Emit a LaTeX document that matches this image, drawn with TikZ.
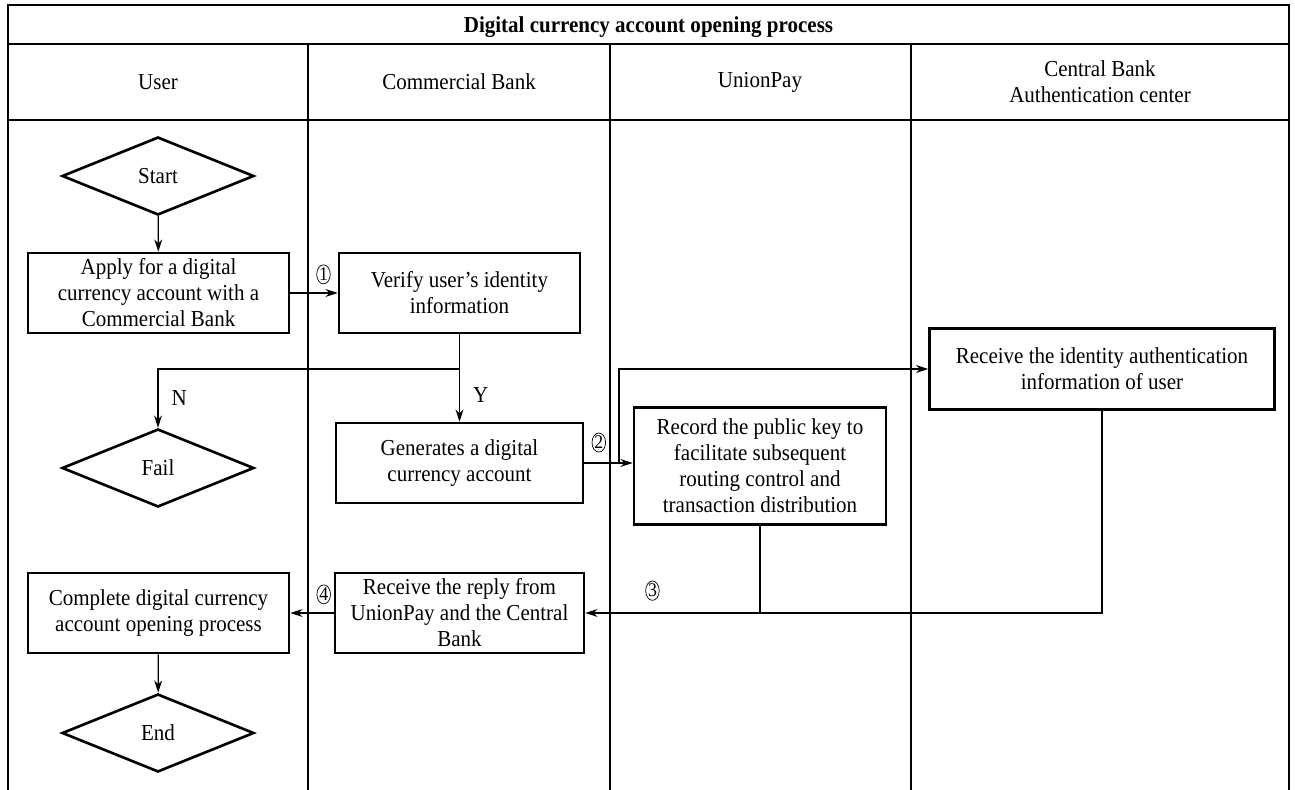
\documentclass[tikz,border=0pt]{standalone}
\usepackage{fontspec}
\setmainfont[FakeStretch=0.92]{Liberation Serif}
\usetikzlibrary{shapes.geometric, arrows.meta}

\begin{document}
\begin{tikzpicture}[x=0.02cm, y=-0.02cm,
    font=\fontsize{13}{14.8}\selectfont,
    >={Stealth[length=7pt, width=4.5pt]},
    lane/.style={line width=0.8pt},
    proc/.style={draw, line width=1.5pt, align=center, inner sep=2pt, minimum height=1.6cm},
    term/.style={draw, diamond, line width=1.5pt, minimum width=3.84cm, minimum height=1.56cm, inner sep=0pt},
    flow/.style={line width=0.7pt},
    num/.style={draw, ellipse, line width=0.4pt, inner sep=0.2pt, minimum width=0.26cm, minimum height=0.32cm, font=\fontsize{11}{11}\selectfont}]
  \useasboundingbox (0,0) rectangle (1295,790);
  \draw[lane] (8,790) -- (8,5) -- (1289,5) -- (1289,790);
  \draw[lane] (8,44) -- (1289,44) (8,120) -- (1289,120);
  \foreach \x in {308,610,911}
    \draw[lane] (\x,44) -- (\x,790);
  \node[font=\bfseries\fontsize{13}{14.8}\selectfont] (title) at (648.5,27) {Digital currency account opening process};
  \node (huser) at (158,82) {User};
  \node (hbank) at (459,82) {Commercial Bank};
  \node (hunion) at (760,82) {UnionPay};
  \node[align=center] (hcentral) at (1100,82) {Central Bank\\Authentication center};

  \node[term] (start) at (158,176) {Start};
  \node[proc, minimum width=5.22cm] (apply) at (158.5,293) {Apply for a digital\\currency account with a\\Commercial Bank};
  \node[proc, minimum width=4.82cm] (verify) at (459.5,293) {Verify user's identity\\information};
  \node[term] (fail) at (158,468) {Fail};
  \node[proc, minimum width=4.94cm] (gen) at (459.5,463) {Generates a digital\\currency account};
  \node[proc, minimum width=5.04cm, minimum height=2.34cm] (record) at (760,466) {Record the public key to\\facilitate subsequent\\routing control and\\transaction distribution};
  \node[proc, minimum width=6.9cm, minimum height=1.62cm] (auth) at (1102,369) {Receive the identity authentication\\information of user};
  \node[proc, minimum width=4.98cm] (reply) at (459.5,613) {Receive the reply from\\UnionPay and the Central\\Bank};
  \node[proc, minimum width=5.22cm] (done) at (158.5,613) {Complete digital currency\\account opening process};
  \node[term] (end) at (158,733) {End};

  \coordinate (ysplit) at (459.5,369);
  \coordinate (usplit) at (619,463);

  \draw[flow, ->] (start) -- (apply);
  \draw[flow, ->] (apply) -- (verify) node[num, pos=0.7, above=5pt] (c1) {1};
  \draw[flow, ->] (verify) -- (gen) node[pos=0.7, right=4pt] (yes) {Y};
  \draw[flow, ->] (ysplit) -| (fail.north) node[pos=0.75, right=4pt] (no) {N};
  \draw[flow, ->] (gen.east) -- (gen.east -| record.west) node[num, pos=0.3, above=6pt] (c2) {2};
  \draw[flow, ->] (usplit) |- (auth.west);
  \draw[flow] (record.south) -- (record.south |- reply.east);
  \draw[flow, ->] (auth.south) |- (reply.east) node[num, pos=0.935, above=7pt] (c3) {3};
  \draw[flow, ->] (reply) -- (done) node[num, pos=0.23, above=5pt] (c4) {4};
  \draw[flow, ->] (done) -- (end);
\end{tikzpicture}
\end{document}
